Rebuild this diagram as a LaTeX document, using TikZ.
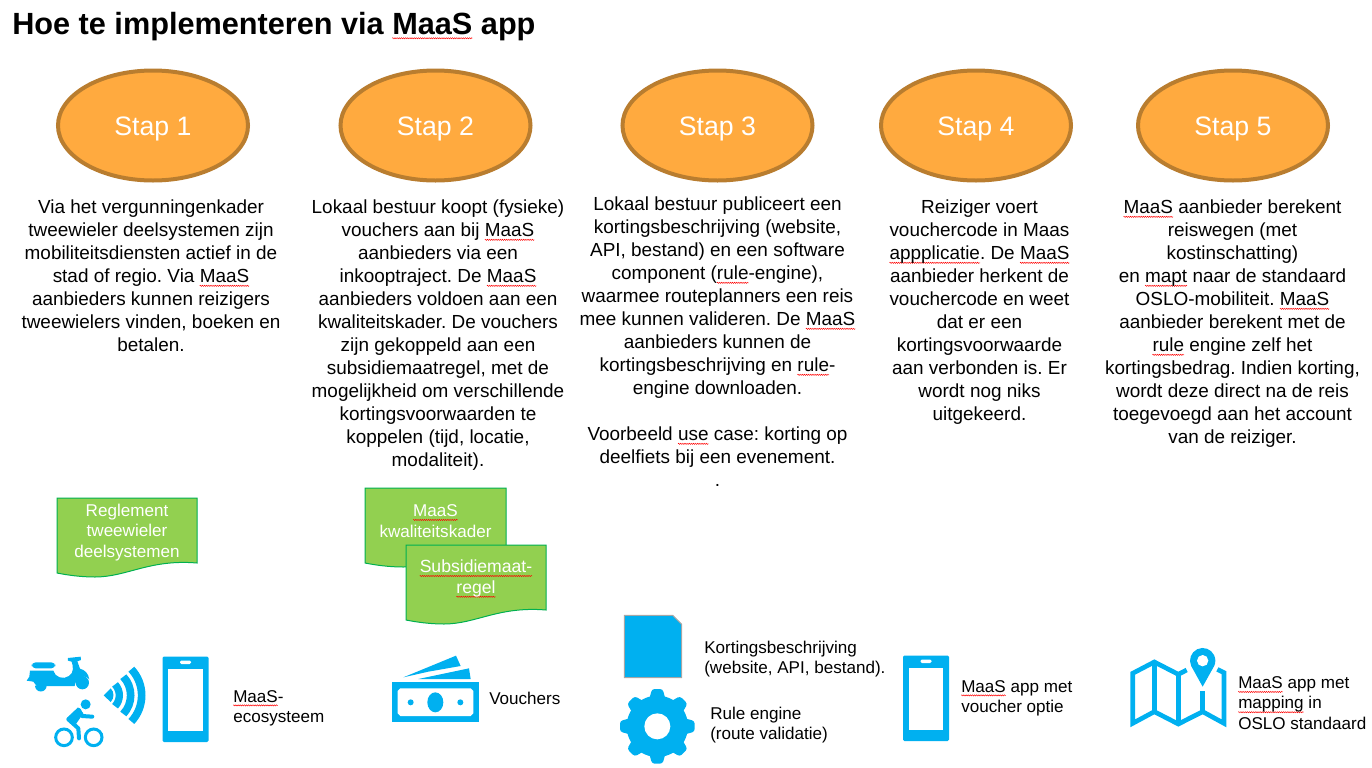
\documentclass[tikz,border=0pt]{standalone}
\usepackage{fontspec}
\usetikzlibrary{shapes.geometric,decorations.pathmorphing}
\setmainfont{Liberation Sans}
\definecolor{stapfill}{HTML}{FFAA3F}
\definecolor{stapline}{HTML}{B97D2F}
\definecolor{docfill}{HTML}{92D050}
\definecolor{docline}{HTML}{00B050}
\definecolor{iconblue}{HTML}{00B0F0}
\newsavebox{\sqbox}
\newcommand{\sq}[1]{\leavevmode\sbox{\sqbox}{#1}\tikz[overlay,baseline=0pt] \draw[red,line width=.35pt,decorate,decoration={zigzag,amplitude=.45pt,segment length=1.6pt}] (0pt,-2.5pt) -- (\wd\sqbox,-2.5pt);\usebox{\sqbox}}
\newcommand{\docshape}[4]{% left, top, width, height
	\draw[docblad] (#1,#2) -- (#1+#3,#2) -- (#1+#3,#2+#4-14)
		.. controls (#1+.66*#3,#2+#4-18) and (#1+.5*#3,#2+#4) .. (#1+.27*#3,#2+#4)
		.. controls (#1+.17*#3,#2+#4) and (#1+.07*#3,#2+#4-2) .. (#1,#2+#4-4) -- cycle;}
\newcommand{\phoneicon}[2]{% left, top
	\fill[iconblue,rounded corners=1pt] (#1,#2) rectangle ++(46,85.5);
	\fill[white] (#1+5.5,#2+12) rectangle ++(34.5,62.5);
	\fill[white,rounded corners=1pt] (#1+17.5,#2+4) rectangle ++(11,3.5);}
\tikzset{
	stap/.style={ellipse,draw=stapline,fill=stapfill,line width=3pt,minimum width=142.5pt,minimum height=82.5pt,
		inner sep=0pt,text=white,text depth=0pt,font=\fontsize{20}{24}\selectfont},
	uitleg/.style={align=center,inner sep=0pt,font=\fontsize{14.2}{17.25}\selectfont},
	docblad/.style={draw=docline,fill=docfill,line width=.75pt},
	doctekst/.style={align=center,inner sep=0pt,text=white,font=\fontsize{12.8}{15.4}\selectfont},
	label/.style={align=left,anchor=west,inner sep=0pt,font=\fontsize{12.8}{15.2}\selectfont},
}
\begin{document}
\frenchspacing
\begin{tikzpicture}[x=.75pt,y=.75pt,yscale=-1]
	\useasboundingbox (0,0) rectangle (1372,768);
	\node (titel) [anchor=west,inner sep=0pt,font=\fontsize{23}{27}\selectfont\bfseries] at (12,27) {Hoe te implementeren via \sq{MaaS} app};
	% stappen
	\node (stap1) [stap] at (153,125.5) {\raisebox{-1.2pt}{Stap 1}};
	\node (stap2) [stap] at (435.5,125.5) {\raisebox{-1.2pt}{Stap 2}};
	\node (stap3) [stap] at (717.5,125.5) {\raisebox{-1.2pt}{Stap 3}};
	\node (stap4) [stap] at (976,125.5) {\raisebox{-1.2pt}{Stap 4}};
	\node (stap5) [stap] at (1233,125.5) {\raisebox{-1.2pt}{Stap 5}};
	% uitleg per stap
	\node (uitleg1) [uitleg,anchor=north] at (151,199.5) {Via het vergunningenkader\\tweewieler deelsystemen zijn\\mobiliteitsdiensten actief in de\\stad of regio. Via \sq{MaaS}\\aanbieders kunnen reizigers\\tweewielers vinden, boeken en\\betalen.};
	\node (uitleg2) [uitleg,anchor=north] at (438,199.5) {Lokaal bestuur koopt (fysieke)\\vouchers aan bij \sq{MaaS}\\aanbieders via een\\inkooptraject. De \sq{MaaS}\\aanbieders voldoen aan een\\kwaliteitskader. De vouchers\\zijn gekoppeld aan een\\subsidiemaatregel, met de\\mogelijkheid om verschillende\\kortingsvoorwaarden te\\koppelen (tijd, locatie,\\modaliteit).};
	\node (uitleg3) [uitleg,anchor=north] at (717.5,196.5) {Lokaal bestuur publiceert een\\kortingsbeschrijving (website,\\API, bestand) en een software\\component (\sq{rule}-engine),\\waarmee routeplanners een reis\\mee kunnen valideren. De \sq{MaaS}\\aanbieders kunnen de\\kortingsbeschrijving en \sq{rule}-\\engine downloaden.\\[17.25pt]Voorbeeld \sq{use} case: korting op\\deelfiets bij een evenement.\\.};
	\node (uitleg4) [uitleg,anchor=north] at (979.5,199.5) {Reiziger voert\\vouchercode in Maas\\\sq{appplicatie}. De \sq{MaaS}\\aanbieder herkent de\\vouchercode en weet\\dat er een\\kortingsvoorwaarde\\aan verbonden is. Er\\wordt nog niks\\uitgekeerd.};
	\node (uitleg5) [uitleg,anchor=north] at (1232.5,199.5) {\sq{MaaS} aanbieder berekent\\reiswegen (met\\kostinschatting)\\en \sq{mapt} naar de standaard\\OSLO-mobiliteit. \sq{MaaS}\\aanbieder berekent met de\\\sq{rule} engine zelf het\\kortingsbedrag. Indien korting,\\wordt deze direct na de reis\\toegevoegd aan het account\\van de reiziger.};
	% documenten
	\docshape{57}{498}{140}{79}
	\node (reglement) [doctekst] at (127,532.5) {Reglement\\tweewieler\\deelsystemen};
	\docshape{365}{488}{141}{79}
	\node (kader) [doctekst] at (435.5,521) {\sq{MaaS}\\kwaliteitskader};
	\docshape{406}{545}{140}{79}
	\node (subsidie) [doctekst,font=\fontsize{13.2}{15.6}\selectfont] at (476,578.5) {\sq{Subsidiemaat-}\\\sq{regel}};
	% telefoons
	\phoneicon{162.5}{656.5}
	\phoneicon{903}{655.5}
	% scooter
	\begin{scope}[shift={(0,620)},scale=1/3]
		\fill[iconblue,rounded corners=3pt] (95,127) rectangle (166,145);
		\fill[iconblue] (90,152) -- (160,152) .. controls (165,172) and (190,180) .. (207,168)
			.. controls (222,158) and (220,140) .. (215,125) -- (204,122) -- (204,114) -- (242,110) -- (243,120) -- (232,124)
			-- (240,146) .. controls (255,150) and (265,160) .. (268,178) .. controls (250,160) and (228,172) .. (224,198)
			-- (110,198) -- (100,185) -- (80,182) -- (88,170) -- cycle;
		\fill[iconblue] (247,188) circle (20);
		\fill[iconblue] (105,197) -- (140,197) arc (0:180:17.5) -- cycle;
		% fietser
		\fill[iconblue] (257,253) circle (15);
		\draw[iconblue,line width=3pt,line cap=round,line join=round] (237,355) -- (235,325) -- (205,298) -- (237,270) -- (246,288) -- (277,290);
		\fill[iconblue] (200,295) -- (234,262) -- (250,280) -- (228,312) -- cycle;
		\draw[iconblue,line width=2.25pt] (192,352) circle (25);
		\draw[iconblue,line width=2.25pt] (281,352) circle (25);
		% wifi
		\fill[iconblue] (311,226) -- (332,205) arc (-45:45:29) -- cycle;
		\draw[iconblue,line width=5.5pt] (310,226) ++(-43:48) arc (-43:43:48);
		\draw[iconblue,line width=5.75pt] (310,226) ++(-43:82) arc (-43:43:82);
		\draw[iconblue,line width=5.75pt] (310,226) ++(-43:115) arc (-43:43:115);
	\end{scope}
	% vouchers en document en tandwiel
	\begin{scope}[shift={(350,480)},scale=1/3]
		\fill[iconblue] (125,607) rectangle (388,727);
		\fill[white] (151,625) -- (362,625) -- (370,633) -- (370,700) -- (362,708) -- (151,708) -- (143,700) -- (143,633) -- cycle;
		\fill[iconblue] (256,667) ellipse (24 and 30);
		\fill[iconblue] (182,667) circle (9);
		\fill[iconblue] (331,667) circle (9);
		\fill[iconblue] (160,592) -- (318,527) -- (332,558) -- (235,575) -- cycle;
		\fill[iconblue] (205,597) -- (357,565) -- (362,597) -- cycle;
		\draw[fill=iconblue,draw=black!35,line width=.75pt] (823,406) -- (968,406) -- (995,433) -- (995,593) -- (823,593) -- cycle;
		\fill[iconblue] (922,739) circle (92);
		\foreach \hoek in {0,45,...,315}
			\fill[iconblue,rotate around={\hoek:(922,739)},rounded corners=2pt] (897,660) -- (906,627) -- (938,627) -- (947,660) -- cycle;
		\fill[white] (922,739) circle (39);
	\end{scope}
	% kaart
	\begin{scope}[shift={(880,620)},scale=1/3]
		\draw[iconblue,line width=3.5pt,miter limit=10] (920,150) -- (895,163) -- (823,126) -- (758,160) -- (758,310) -- (823,275) -- (895,312) -- (968,275) -- (1032,310) -- (1032,158) -- (1012,148);
		\draw[iconblue,line width=3.5pt] (823,126) -- (823,275) (895,163) -- (895,312) (968,213) -- (968,275);
		\fill[iconblue] (968,200) -- (933.6,138) arc (155:385:38) -- cycle;
		\fill[white] (968,122) circle (17);
	\end{scope}
	% bijschriften
	\node (ecosysteem) [label] at (233,708) {\sq{MaaS}-\\ecosysteem};
	\node (vouchers) [label] at (489,698) {Vouchers};
	\node (korting) [label] at (704,659) {Kortingsbeschrijving\\(website, API, bestand).};
	\node (rule) [label] at (710,725) {Rule engine\\(route validatie)};
	\node (voucheroptie) [label] at (961,698) {\sq{MaaS} app met\\voucher optie};
	\node (oslo) [label] at (1238,703) {\sq{MaaS} app met\\\sq{mapping} in\\OSLO standaard};
\end{tikzpicture}
\end{document}
